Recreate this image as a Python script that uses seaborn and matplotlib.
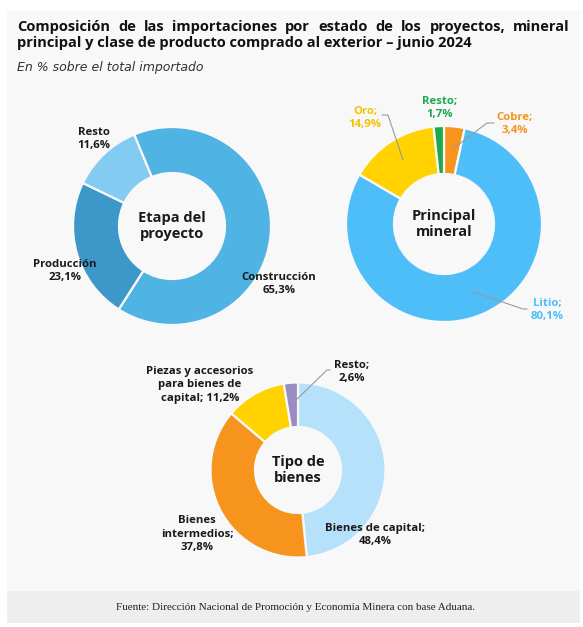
import matplotlib
matplotlib.use("Agg")
import matplotlib.pyplot as plt
from matplotlib.patches import Rectangle
import seaborn as sns

sns.set_theme(style="white")
plt.rcParams['font.family'] = ['Open Sans', 'DejaVu Sans']

W, H = 583, 627

# datos
etapa_labels = ["Construcción", "Producción", "Resto"]
etapa_values = [65.3, 23.1, 11.6]
etapa_colors = ["#4fb3e3", "#3d97c9", "#84cbf2"]

mineral_labels = ["Cobre", "Litio", "Oro", "Resto"]
mineral_values = [3.4, 80.1, 14.9, 1.7]
mineral_colors = ["#f7941d", "#4dbef8", "#ffd200", "#1ea84f"]

bienes_labels = ["Bienes de capital", "Bienes intermedios",
                 "Piezas y accesorios para bienes de capital", "Resto"]
bienes_values = [48.4, 37.8, 11.2, 2.6]
bienes_colors = ["#b5e1fb", "#f7941d", "#ffd200", "#9a8cc4"]

TITLE_1 = "Composición de las importaciones por estado de los proyectos, mineral"
TITLE_2 = "principal y clase de producto comprado al exterior – junio 2024"
SUBTITLE = "En % sobre el total importado"
FUENTE = "Fuente: Dirección Nacional de Promoción y Economía Minera con base Aduana."

BG = "#f8f8f8"
DARK = "#1a1a1a"


def pct(v):
    return f"{v:.1f}".replace(".", ",") + "%"


def Y(y):
    # coordenadas en pixeles desde arriba
    return H - y


fig = plt.figure(figsize=(W / 100, H / 100), dpi=100)
fig.patch.set_facecolor("white")
ax = fig.add_axes([0, 0, 1, 1])

ax.add_patch(Rectangle((7, Y(591)), 573, 581, color=BG, zorder=0, lw=0))
ax.add_patch(Rectangle((7, Y(623)), 573, 32, color="#eeeeee", zorder=0, lw=0))


def donut(values, colors, center, radius, inner, start):
    ax.pie(values, colors=colors, startangle=start, counterclock=False,
           center=(center[0], Y(center[1])), radius=radius,
           wedgeprops=dict(width=radius - inner, edgecolor=BG, linewidth=1.6))


donut(etapa_values, etapa_colors, (172, 226), 99, 53, 112.5)
donut(mineral_values, mineral_colors, (444, 224), 98, 50, 90)
donut(bienes_values, bienes_colors, (298, 470), 87.5, 43, 90)

ax.set_xlim(0, W)
ax.set_ylim(0, H)
ax.set_aspect("equal")
ax.axis("off")

lab = dict(fontsize=8.2, fontweight="bold", ha="center", va="center",
           linespacing=1.3, zorder=5)
mid = dict(fontsize=10.5, fontweight="bold", ha="center", va="center",
           linespacing=1.2, color=DARK, zorder=5)

# centros
ax.text(172, Y(226), "Etapa del\nproyecto", **mid)
ax.text(444, Y(224), "Principal\nmineral", **mid)
ax.text(298, Y(470), "Tipo de\nbienes", **mid)

# etapa del proyecto
ax.text(279, Y(284), f"{etapa_labels[0]}\n{pct(etapa_values[0])}", color=DARK, **lab)
ax.text(65, Y(271), f"{etapa_labels[1]}\n{pct(etapa_values[1])}", color=DARK, **lab)
ax.text(94, Y(139), f"{etapa_labels[2]}\n{pct(etapa_values[2])}", color=DARK, **lab)

# principal mineral
ax.text(515, Y(124), f"{mineral_labels[0]};\n{pct(mineral_values[0])}", color=mineral_colors[0], **lab)
ax.text(547, Y(310), f"{mineral_labels[1]};\n{pct(mineral_values[1])}", color=mineral_colors[1], **lab)
ax.text(365, Y(118), f"{mineral_labels[2]};\n{pct(mineral_values[2])}", color="#f2c200", **lab)
ax.text(440, Y(108), f"{mineral_labels[3]};\n{pct(mineral_values[3])}", color=mineral_colors[3], **lab)

# tipo de bienes
ax.text(375, Y(535), f"{bienes_labels[0]};\n{pct(bienes_values[0])}", color=DARK, **lab)
ax.text(197, Y(534), "Bienes\nintermedios;\n" + pct(bienes_values[1]), color=DARK, **lab)
ax.text(200, Y(385), "Piezas y accesorios\npara bienes de\ncapital; " + pct(bienes_values[2]),
        color=DARK, **lab)
ax.text(352, Y(372), f"{bienes_labels[3]};\n{pct(bienes_values[3])}", color=DARK, **lab)


def leader(pts):
    xs = [p[0] for p in pts]
    ys = [Y(p[1]) for p in pts]
    ax.plot(xs, ys, color="#9a9a9a", lw=0.8, zorder=4)


leader([(382, 115), (388, 115), (403, 160)])
leader([(494, 123), (487, 123), (454, 148)])
leader([(527, 309), (523, 309), (473, 292)])
leader([(330, 370), (327, 370), (293, 403)])

# titulo justificado
renderer = fig.canvas.get_renderer()
tkw = dict(fontsize=10.5, fontweight="bold", color="#111111", va="center", ha="left")
words = TITLE_1.split()
arts = [ax.text(0, Y(27), w, **tkw) for w in words]
widths = [a.get_window_extent(renderer).width for a in arts]
gap = (570 - 17 - sum(widths)) / (len(words) - 1)
x = 17
for a, wd in zip(arts, widths):
    a.set_x(x)
    x += wd + gap
ax.text(17, Y(43), TITLE_2, **tkw)

ax.text(17, Y(68), SUBTITLE, fontsize=9, style="italic", color="#333333",
        family=["DejaVu Sans"], va="center", ha="left")

ax.text(295, Y(607), FUENTE, fontsize=8.0, family=["Liberation Serif", "DejaVu Serif"],
        color="#222222", ha="center", va="center")

fig.savefig("out.png", dpi=100)
